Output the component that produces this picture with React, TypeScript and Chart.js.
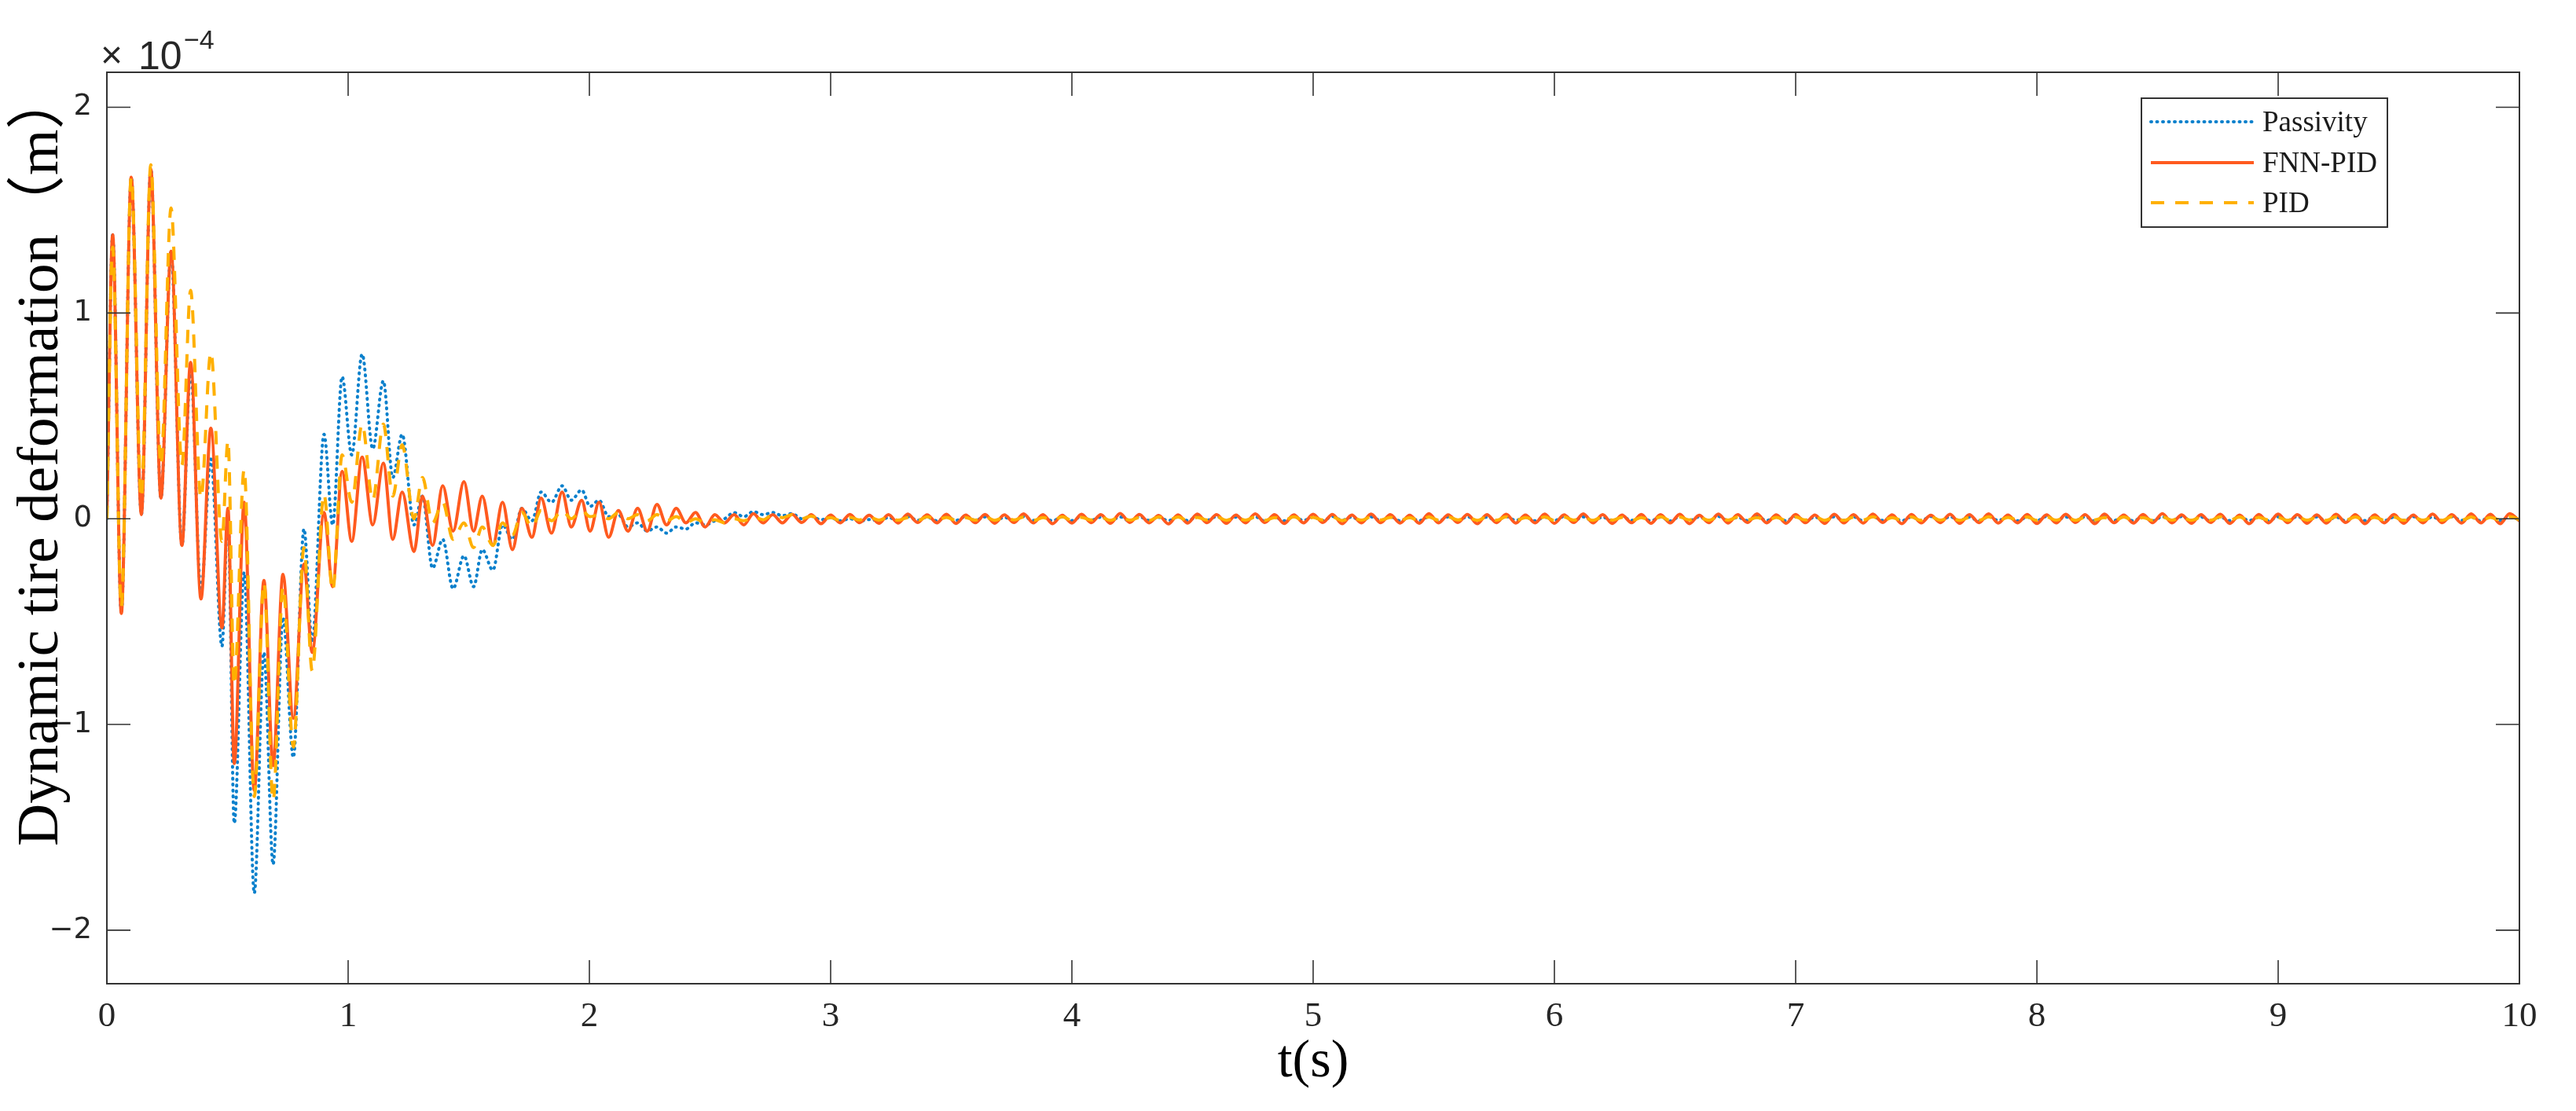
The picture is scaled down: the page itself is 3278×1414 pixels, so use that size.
import React, { useEffect, useRef } from 'react';
import { Chart, registerables } from 'chart.js';

Chart.register(...registerables);

// ---------- data (values in units of 1e-4 m) ----------
const SERIES_LABELS = ['Passivity', 'FNN-PID', 'PID'];
const X_TICKS = [0, 1, 2, 3, 4, 5, 6, 7, 8, 9, 10];
const Y_TICKS = [-2, -1, 0, 1, 2];
const X_TITLE = 't(s)';
const Y_TITLE = 'Dynamic tire deformation\uFF08m\uFF09';

const TIME_EARLY = [
  0, 0.024, 0.06, 0.101, 0.143, 0.182, 0.224, 0.266, 0.311, 0.347,
  0.39, 0.431, 0.477, 0.502, 0.528, 0.569, 0.611, 0.651, 0.689, 0.73,
  0.773, 0.817, 0.851, 0.9, 0.936, 0.975, 1.015, 1.058, 1.102, 1.146,
  1.185, 1.224, 1.273, 1.308, 1.35, 1.392, 1.435, 1.48, 1.52, 1.556,
  1.6, 1.64, 1.681, 1.72, 1.762, 1.8, 1.843, 1.887, 1.925, 1.968,
  2.003,
];

const TIME_TAIL = [
  2.04, 2.08, 2.12, 2.16, 2.2, 2.24, 2.28, 2.32, 2.36, 2.4,
  2.44, 2.48, 2.52, 2.56, 2.6, 2.64, 2.68, 2.72, 2.76, 2.8,
  2.84, 2.88, 2.92, 2.96, 3.0, 3.04, 3.08, 3.12, 3.16, 3.2,
  3.24, 3.28, 3.32, 3.36, 3.4, 3.44, 3.48, 3.52, 3.56, 3.6,
  3.64, 3.68, 3.72, 3.76, 3.8, 3.84, 3.88, 3.92, 3.96, 4.0,
  4.04, 4.08, 4.12, 4.16, 4.2, 4.24, 4.28, 4.32, 4.36, 4.4,
  4.44, 4.48, 4.52, 4.56, 4.6, 4.64, 4.68, 4.72, 4.76, 4.8,
  4.84, 4.88, 4.92, 4.96, 5.0, 5.04, 5.08, 5.12, 5.16, 5.2,
  5.24, 5.28, 5.32, 5.36, 5.4, 5.44, 5.48, 5.52, 5.56, 5.6,
  5.64, 5.68, 5.72, 5.76, 5.8, 5.84, 5.88, 5.92, 5.96, 6.0,
  6.04, 6.08, 6.12, 6.16, 6.2, 6.24, 6.28, 6.32, 6.36, 6.4,
  6.44, 6.48, 6.52, 6.56, 6.6, 6.64, 6.68, 6.72, 6.76, 6.8,
  6.84, 6.88, 6.92, 6.96, 7.0, 7.04, 7.08, 7.12, 7.16, 7.2,
  7.24, 7.28, 7.32, 7.36, 7.4, 7.44, 7.48, 7.52, 7.56, 7.6,
  7.64, 7.68, 7.72, 7.76, 7.8, 7.84, 7.88, 7.92, 7.96, 8.0,
  8.04, 8.08, 8.12, 8.16, 8.2, 8.24, 8.28, 8.32, 8.36, 8.4,
  8.44, 8.48, 8.52, 8.56, 8.6, 8.64, 8.68, 8.72, 8.76, 8.8,
  8.84, 8.88, 8.92, 8.96, 9.0, 9.04, 9.08, 9.12, 9.16, 9.2,
  9.24, 9.28, 9.32, 9.36, 9.4, 9.44, 9.48, 9.52, 9.56, 9.6,
  9.64, 9.68, 9.72, 9.76, 9.8, 9.84, 9.88, 9.92, 9.96, 10.0,
];

const PASSIVITY_EARLY = [
  0, 1.38, -0.46, 1.66, 0.02, 1.7, 0.1, 1.3, -0.13, 0.72,
  -0.35, 0.29, -0.62, 0.02, -1.48, -0.26, -1.82, -0.65, -1.68, -0.48,
  -1.16, -0.05, -0.6, 0.41, -0.03, 0.69, 0.31, 0.8, 0.34, 0.67,
  0.2, 0.41, -0.03, 0.11, -0.24, -0.1, -0.34, -0.18, -0.33, -0.15,
  -0.25, -0.03, -0.1, 0.05, -0.01, 0.13, 0.08, 0.16, 0.09, 0.14,
  0.06,
];

const PASSIVITY_TAIL = [
  0.09, 0.01, 0.02, -0.04, -0.02, -0.06, -0.04, -0.07, -0.04, -0.05,
  -0.02, -0.03, -0.01, 0.0, 0.03, 0.01, 0.035, 0.02, 0.03, 0.015,
  0.025, 0.0, 0.012, -0.005, 0.005, -0.01, 0.0, -0.012, -0.004, -0.01,
  0.006, -0.009, 0.01, -0.007, 0.008, -0.01, 0.009, -0.008, 0.011, -0.007,
  0.009, -0.011, 0.007, -0.009, 0.01, -0.008, 0.008, -0.01, 0.009, -0.009,
  0.011, -0.007, 0.008, -0.01, 0.009, -0.011, 0.01, -0.008, 0.007, -0.009,
  0.01, -0.009, 0.009, -0.007, 0.011, -0.01, 0.008, -0.009, 0.01, -0.011,
  0.008, -0.01, 0.01, -0.008, 0.009, -0.009, 0.011, -0.007, 0.008, -0.01,
  0.009, -0.008, 0.011, -0.01, 0.007, -0.009, 0.01, -0.011, 0.009, -0.008,
  0.01, -0.01, 0.008, -0.009, 0.011, -0.008, 0.009, -0.01, 0.008, -0.009,
  0.011, -0.009, 0.009, -0.011, 0.008, -0.01, 0.01, -0.008, 0.009, -0.01,
  0.008, -0.011, 0.01, -0.009, 0.009, -0.008, 0.011, -0.01, 0.007, -0.009,
  0.01, -0.008, 0.009, -0.01, 0.011, -0.009, 0.008, -0.011, 0.01, -0.008,
  0.009, -0.01, 0.011, -0.008, 0.008, -0.01, 0.009, -0.009, 0.011, -0.01,
  0.01, -0.009, 0.008, -0.011, 0.01, -0.008, 0.009, -0.01, 0.008, -0.009,
  0.011, -0.008, 0.009, -0.009, 0.01, -0.011, 0.008, -0.008, 0.01, -0.01,
  0.009, -0.01, 0.01, -0.008, 0.011, -0.009, 0.009, -0.011, 0.008, -0.009,
  0.01, -0.009, 0.008, -0.01, 0.009, -0.008, 0.011, -0.01, 0.009, -0.011,
  0.008, -0.01, 0.011, -0.009, 0.01, -0.009, 0.008, -0.008, 0.01, -0.01,
  0.009, -0.011, 0.01, -0.008, 0.008, -0.01, 0.011, -0.009, 0.012, -0.006,
];

const FNN_PID_EARLY = [
  0, 1.38, -0.46, 1.66, 0.02, 1.7, 0.1, 1.3, -0.13, 0.76,
  -0.39, 0.44, -0.53, 0.05, -1.19, 0.08, -1.32, -0.3, -1.2, -0.27,
  -0.97, -0.22, -0.65, 0.03, -0.33, 0.23, -0.11, 0.3, -0.03, 0.27,
  -0.1, 0.13, -0.16, 0.11, -0.13, 0.16, -0.06, 0.18, -0.06, 0.11,
  -0.13, 0.08, -0.15, 0.05, -0.09, 0.1, -0.07, 0.13, -0.04, 0.09,
  -0.06,
];

const FNN_PID_TAIL = [
  0.08, -0.09, 0.04, -0.06, 0.05, -0.06, 0.07, -0.03, 0.05, -0.02,
  0.03, -0.04, 0.02, -0.02, 0.02, -0.03, 0.025, -0.02, 0.02, -0.02,
  0.022, -0.018, 0.02, -0.024, 0.018, -0.02, 0.021, -0.019, 0.017, -0.022,
  0.02, -0.021, 0.023, -0.018, 0.019, -0.02, 0.022, -0.023, 0.018, -0.019,
  0.021, -0.022, 0.019, -0.018, 0.024, -0.02, 0.02, -0.024, 0.017, -0.021,
  0.022, -0.019, 0.02, -0.022, 0.026, -0.018, 0.021, -0.02, 0.016, -0.025,
  0.019, -0.021, 0.023, -0.019, 0.02, -0.022, 0.018, -0.02, 0.024, -0.018,
  0.02, -0.023, 0.019, -0.02, 0.022, -0.018, 0.021, -0.024, 0.018, -0.02,
  0.023, -0.019, 0.02, -0.021, 0.017, -0.022, 0.025, -0.02, 0.019, -0.018,
  0.021, -0.024, 0.02, -0.019, 0.022, -0.021, 0.018, -0.02, 0.023, -0.022,
  0.019, -0.018, 0.024, -0.02, 0.02, -0.023, 0.018, -0.019, 0.021, -0.022,
  0.02, -0.02, 0.022, -0.024, 0.017, -0.019, 0.023, -0.021, 0.02, -0.018,
  0.024, -0.02, 0.019, -0.022, 0.021, -0.019, 0.018, -0.023, 0.022, -0.02,
  0.02, -0.021, 0.023, -0.018, 0.019, -0.024, 0.021, -0.02, 0.017, -0.019,
  0.022, -0.022, 0.02, -0.019, 0.024, -0.021, 0.018, -0.02, 0.021, -0.023,
  0.019, -0.02, 0.022, -0.018, 0.02, -0.024, 0.023, -0.019, 0.018, -0.021,
  0.021, -0.019, 0.025, -0.02, 0.019, -0.022, 0.02, -0.018, 0.022, -0.023,
  0.018, -0.024, 0.021, -0.02, 0.023, -0.019, 0.02, -0.022, 0.019, -0.021,
  0.022, -0.018, 0.02, -0.024, 0.019, -0.02, 0.021, -0.022, 0.018, -0.02,
  0.023, -0.019, 0.02, -0.021, 0.024, -0.02, 0.022, -0.024, 0.025, -0.01,
];

const PID_EARLY = [
  0, 1.32, -0.43, 1.66, 0.1, 1.72, 0.26, 1.51, 0.26, 1.11,
  0.1, 0.81, -0.11, 0.38, -0.81, 0.24, -1.35, -0.31, -1.37, -0.33,
  -1.11, -0.14, -0.74, 0.12, -0.35, 0.31, 0.08, 0.46, 0.09, 0.46,
  0.11, 0.36, 0.0, 0.2, -0.02, 0.08, -0.1, -0.02, -0.14, -0.04,
  -0.13, -0.02, -0.08, 0.03, -0.04, 0.04, -0.01, 0.04, 0.0, 0.04,
  0.01,
];

const PID_TAIL = [
  0.02, 0.0, 0.03, 0.0, 0.02, -0.01, 0.02, -0.01, 0.01, -0.02,
  0.0, -0.02, -0.005, -0.02, 0.0, -0.01, 0.01, -0.005, 0.02, 0.005,
  0.02, 0.0, 0.012, -0.004, 0.006, -0.008, 0.007, -0.006, 0.008, -0.007,
  0.008, -0.007, 0.006, -0.009, 0.009, -0.006, 0.007, -0.008, 0.006, -0.007,
  0.009, -0.008, 0.007, -0.006, 0.008, -0.009, 0.006, -0.007, 0.009, -0.008,
  0.007, -0.006, 0.008, -0.008, 0.01, -0.007, 0.006, -0.009, 0.008, -0.006,
  0.008, -0.009, 0.007, -0.006, 0.009, -0.008, 0.006, -0.007, 0.008, -0.008,
  0.006, -0.007, 0.009, -0.008, 0.007, -0.006, 0.008, -0.009, 0.007, -0.007,
  0.009, -0.006, 0.007, -0.008, 0.006, -0.009, 0.008, -0.007, 0.009, -0.006,
  0.007, -0.008, 0.008, -0.007, 0.009, -0.008, 0.006, -0.006, 0.008, -0.009,
  0.008, -0.007, 0.006, -0.008, 0.009, -0.007, 0.007, -0.009, 0.006, -0.008,
  0.009, -0.008, 0.008, -0.006, 0.007, -0.008, 0.009, -0.007, 0.008, -0.006,
  0.006, -0.009, 0.007, -0.007, 0.008, -0.006, 0.009, -0.008, 0.007, -0.008,
  0.008, -0.006, 0.009, -0.009, 0.006, -0.007, 0.008, -0.008, 0.009, -0.007,
  0.007, -0.008, 0.006, -0.007, 0.009, -0.009, 0.007, -0.006, 0.008, -0.008,
  0.009, -0.007, 0.008, -0.008, 0.007, -0.006, 0.006, -0.009, 0.008, -0.007,
  0.006, -0.008, 0.009, -0.007, 0.008, -0.008, 0.007, -0.007, 0.009, -0.006,
  0.008, -0.009, 0.007, -0.006, 0.006, -0.008, 0.009, -0.007, 0.007, -0.008,
  0.009, -0.006, 0.008, -0.009, 0.007, -0.007, 0.008, -0.008, 0.006, -0.007,
  0.007, -0.008, 0.009, -0.007, 0.008, -0.009, 0.007, -0.006, 0.01, -0.004,
];

const TIME = [...TIME_EARLY, ...TIME_TAIL];
const PASSIVITY = [...PASSIVITY_EARLY, ...PASSIVITY_TAIL];
const FNN_PID = [...FNN_PID_EARLY, ...FNN_PID_TAIL];
const PID = [...PID_EARLY, ...PID_TAIL];

// ---------- style ----------
const W = 3278;
const H = 1414;
const AXIS_COLOR = '#333333';
const TEXT_COLOR = '#262626';
const SERIF = "'Liberation Serif', 'Times New Roman', 'Noto Sans CJK SC', serif";
const SANS = "'Liberation Sans', Arial, sans-serif";
const BLUE = '#0A80CC';
const ORANGE = '#FF5A1F';
const YELLOW = '#FFB000';
const DOT_DASH = [1, 6.5];
const DASH = [17, 14];

const fmt = (v: number) => (v < 0 ? '\u2212' + Math.abs(v) : String(v));
const toPoints = (ys: number[]) => TIME.map((t, i) => ({ x: t, y: ys[i] }));

const decor = {
  id: 'decor',
  afterDatasetsDraw(chart: any) {
    const { ctx, chartArea: a, scales } = chart;
    ctx.save();
    ctx.strokeStyle = AXIS_COLOR;
    ctx.lineWidth = 2;
    ctx.setLineDash([]);
    ctx.strokeRect(a.left, a.top, a.right - a.left, a.bottom - a.top);
    ctx.lineWidth = 1.6;
    ctx.beginPath();
    for (const v of X_TICKS) {
      const x = scales.x.getPixelForValue(v);
      ctx.moveTo(x, a.bottom);
      ctx.lineTo(x, a.bottom - 30);
      ctx.moveTo(x, a.top);
      ctx.lineTo(x, a.top + 30);
    }
    for (const v of Y_TICKS) {
      const y = scales.y.getPixelForValue(v);
      ctx.moveTo(a.left, y);
      ctx.lineTo(a.left + 30, y);
      ctx.moveTo(a.right, y);
      ctx.lineTo(a.right - 30, y);
    }
    ctx.stroke();

    // legend
    const lx = 2725, ly = 125, lw = 313, lh = 164;
    ctx.fillStyle = '#ffffff';
    ctx.fillRect(lx, ly, lw, lh);
    ctx.strokeStyle = AXIS_COLOR;
    ctx.lineWidth = 2;
    ctx.strokeRect(lx, ly, lw, lh);
    const rows = [155, 207, 258];
    chart.data.datasets.forEach((ds: any, i: number) => {
      const y = rows[i];
      ctx.save();
      ctx.strokeStyle = ds.borderColor;
      ctx.lineWidth = ds.borderWidth;
      ctx.lineCap = ds.borderCapStyle || 'butt';
      ctx.setLineDash(ds.borderDash || []);
      ctx.beginPath();
      ctx.moveTo(2737, y);
      ctx.lineTo(2868, y);
      ctx.stroke();
      ctx.restore();
      ctx.fillStyle = '#1a1a1a';
      ctx.font = `37px ${SERIF}`;
      ctx.textAlign = 'left';
      ctx.textBaseline = 'alphabetic';
      ctx.fillText(ds.label, 2879, y + 12);
    });
    ctx.restore();
  },
  afterDraw(chart: any) {
    const { ctx, scales } = chart;
    ctx.save();
    ctx.fillStyle = '#000000';
    ctx.textBaseline = 'alphabetic';
    ctx.font = `68px ${SERIF}`;
    ctx.textAlign = 'center';
    ctx.fillText(X_TITLE, scales.x.getPixelForValue(5), 1370);
    ctx.save();
    ctx.translate(73, 1077);
    ctx.rotate(-Math.PI / 2);
    ctx.font = `75px ${SERIF}`;
    ctx.textAlign = 'left';
    ctx.fillText(Y_TITLE, 0, 0);
    ctx.restore();
    ctx.fillStyle = TEXT_COLOR;
    ctx.textAlign = 'left';
    ctx.font = `48px ${SANS}`;
    ctx.fillText('\u00D7', 128, 86);
    ctx.font = `50px ${SANS}`;
    ctx.fillText('10', 176, 88);
    ctx.font = `34px ${SANS}`;
    ctx.fillText('\u22124', 234, 62);
    ctx.restore();
  },
};

export default function App() {
  const ref = useRef<HTMLCanvasElement | null>(null);

  useEffect(() => {
    document.body.style.margin = '0';
    const canvas = ref.current;
    if (!canvas) return;
    const chart = new Chart(canvas, {
      type: 'line',
      data: {
        datasets: [
          {
            label: SERIES_LABELS[0],
            data: toPoints(PASSIVITY),
            borderColor: BLUE,
            borderWidth: 4,
            borderDash: DOT_DASH,
            borderCapStyle: 'round',
            pointRadius: 0,
            cubicInterpolationMode: 'monotone',
            order: 3,
          },
          {
            label: SERIES_LABELS[1],
            data: toPoints(FNN_PID),
            borderColor: ORANGE,
            borderWidth: 4,
            pointRadius: 0,
            cubicInterpolationMode: 'monotone',
            order: 2,
          },
          {
            label: SERIES_LABELS[2],
            data: toPoints(PID),
            borderColor: YELLOW,
            borderWidth: 4,
            borderDash: DASH,
            pointRadius: 0,
            cubicInterpolationMode: 'monotone',
            order: 1,
          },
        ],
      },
      options: {
        animation: false,
        responsive: false,
        devicePixelRatio: 1,
        layout: { padding: { top: 92, right: 72, left: 0, bottom: 0 } },
        plugins: {
          legend: { display: false },
          title: { display: false },
          tooltip: { enabled: false },
        },
        events: [],
        scales: {
          x: {
            type: 'linear',
            min: 0,
            max: 10,
            afterBuildTicks: (s: any) => {
              s.ticks = X_TICKS.map((v) => ({ value: v }));
            },
            afterFit: (s: any) => {
              s.height = 162;
            },
            grid: { display: false, drawTicks: false },
            border: { display: false },
            ticks: {
              autoSkip: false,
              maxRotation: 0,
              padding: 15,
              color: TEXT_COLOR,
              font: { family: SERIF, size: 45 },
              callback: (v: any) => fmt(Number(v)),
            },
          },
          y: {
            type: 'linear',
            min: -2.26,
            max: 2.17,
            afterBuildTicks: (s: any) => {
              s.ticks = Y_TICKS.map((v) => ({ value: v }));
            },
            afterFit: (s: any) => {
              s.width = 136;
            },
            grid: { display: false, drawTicks: false },
            border: { display: false },
            ticks: {
              autoSkip: false,
              padding: 19,
              color: TEXT_COLOR,
              font: { family: "'DejaVu Sans', sans-serif", size: 37 },
              callback: (v: any) => fmt(Number(v)),
            },
          },
        },
      } as any,
      plugins: [decor as any],
    });
    return () => chart.destroy();
  }, []);

  return (
    <div style={{ position: 'absolute', left: 0, top: 0, width: W, height: H, background: '#fff' }}>
      <canvas ref={ref} width={W} height={H} style={{ width: W, height: H, display: 'block' }} />
    </div>
  );
}
